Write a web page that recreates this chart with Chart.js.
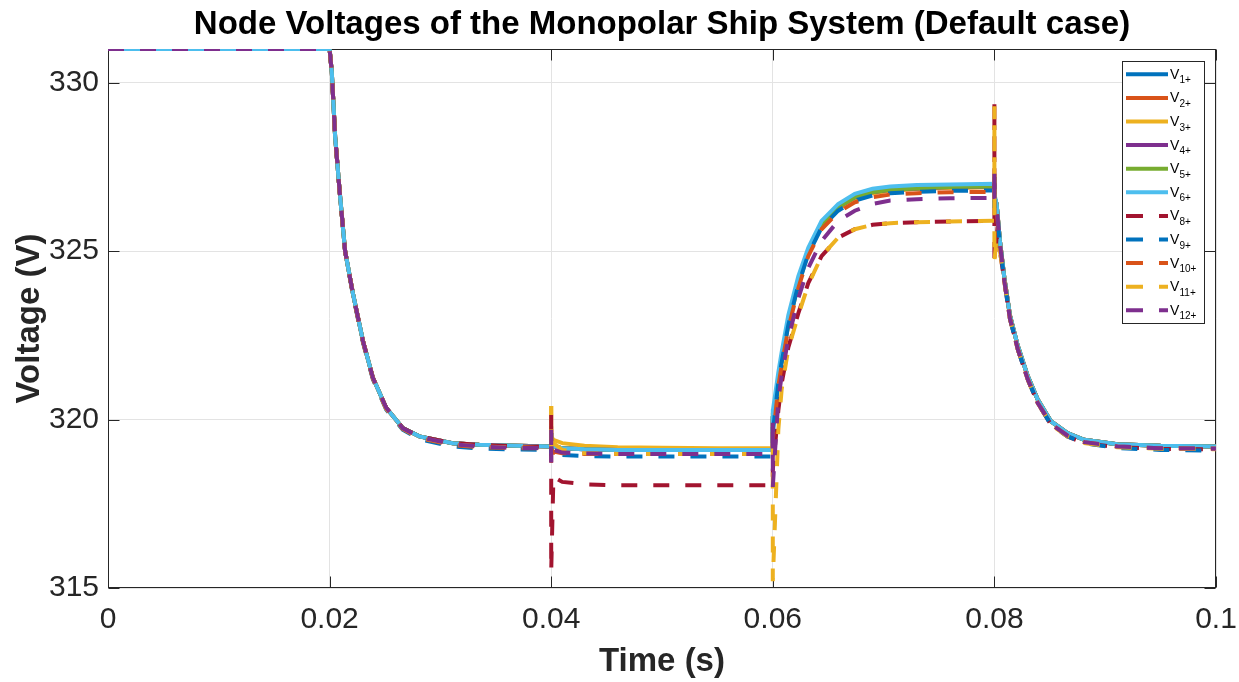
<!DOCTYPE html>
<html>
<head>
<meta charset="utf-8">
<title>Node Voltages of the Monopolar Ship System</title>
<script src="https://cdn.jsdelivr.net/npm/chart.js@4.4.1/dist/chart.umd.min.js"></script>
<style>
  html, body { margin: 0; padding: 0; background: #fff; }
  canvas { display: block; }
</style>
</head>
<body>
<canvas id="voltChart" width="1239" height="682"></canvas>
<script>
"use strict";

// time samples (s) - repeated times are the switching spikes
const timeS = [
  0, 0.02, 0.0202, 0.0205, 0.0209, 0.0214, 0.0221, 0.023, 0.0239, 0.0251, 0.0266, 0.0281, 0.0311, 0.0335, 0.037,
  0.04, 0.04, 0.04,
  0.0402, 0.041, 0.043, 0.046, 0.05, 0.055,
  0.06, 0.06, 0.06,
  0.0605, 0.0608, 0.0614, 0.0623, 0.0632, 0.0644, 0.0659, 0.0674, 0.069, 0.0706, 0.073, 0.076,
  0.08, 0.08, 0.08,
  0.0802, 0.0805, 0.0809, 0.0814, 0.0821, 0.083, 0.0839, 0.0851, 0.0866, 0.0881, 0.0911, 0.095, 0.1
];

// node voltages (V)
const v1 = [331, 331, 330.3, 328.4, 326.8, 325.0, 323.75, 322.35, 321.25, 320.35, 319.75, 319.5, 319.3, 319.25, 319.22,
  319.2, 319.6, 319.2,
  319.2, 319.15, 319.12, 319.1, 319.1, 319.1,
  319.1, 320.1, 320.0,
  321.2, 321.8, 322.9, 324.1, 325.0, 325.8, 326.3, 326.6, 326.75, 326.82, 326.86, 326.9,
  326.92, 327.2, 326.6,
  326.4, 325.3, 324.2, 323.1, 322.2, 321.3, 320.6, 319.95, 319.6, 319.4, 319.27, 319.22, 319.2];
const v2 = [331, 331, 330.3, 328.4, 326.8, 325.0, 323.75, 322.35, 321.25, 320.35, 319.75, 319.5, 319.3, 319.25, 319.22,
  319.2, 319.8, 319.1,
  319.2, 319.15, 319.12, 319.1, 319.1, 319.1,
  319.1, 320.0, 319.9,
  321.15, 321.75, 322.85, 324.05, 324.98, 325.78, 326.28, 326.58, 326.73, 326.8, 326.85, 326.88,
  326.9, 327.2, 326.6,
  326.4, 325.3, 324.2, 323.1, 322.2, 321.3, 320.6, 319.95, 319.6, 319.4, 319.27, 319.22, 319.2];
const v3 = [331, 331, 330.3, 328.4, 326.8, 325.0, 323.75, 322.35, 321.25, 320.35, 319.75, 319.5, 319.3, 319.25, 319.22,
  319.2, 320.4, 319.5,
  319.4, 319.3, 319.22, 319.18, 319.16, 319.15,
  319.15, 320.2, 319.8,
  321.1, 321.7, 322.8, 324.0, 324.95, 325.75, 326.25, 326.55, 326.72, 326.8, 326.85, 326.88,
  326.9, 327.3, 326.5,
  326.4, 325.3, 324.2, 323.1, 322.2, 321.3, 320.6, 319.95, 319.6, 319.4, 319.27, 319.22, 319.2];
const v4 = [331, 331, 330.3, 328.4, 326.8, 325.0, 323.75, 322.35, 321.25, 320.35, 319.75, 319.5, 319.3, 319.25, 319.22,
  319.2, 319.6, 319.2,
  319.2, 319.15, 319.12, 319.1, 319.1, 319.1,
  319.1, 320.1, 320.0,
  321.2, 321.8, 322.9, 324.1, 325.0, 325.8, 326.3, 326.6, 326.75, 326.82, 326.86, 326.9,
  326.92, 327.2, 326.6,
  326.4, 325.3, 324.2, 323.1, 322.2, 321.3, 320.6, 319.95, 319.6, 319.4, 319.27, 319.22, 319.2];
const v5 = [331, 331, 330.3, 328.4, 326.8, 325.0, 323.75, 322.35, 321.25, 320.35, 319.75, 319.5, 319.3, 319.25, 319.22,
  319.2, 319.6, 319.2,
  319.2, 319.15, 319.12, 319.1, 319.1, 319.1,
  319.1, 320.1, 320.0,
  321.2, 321.8, 322.9, 324.1, 325.0, 325.8, 326.3, 326.6, 326.75, 326.82, 326.86, 326.9,
  326.92, 327.2, 326.6,
  326.4, 325.3, 324.2, 323.1, 322.2, 321.3, 320.6, 319.95, 319.6, 319.4, 319.27, 319.22, 319.2];
const v6 = [331, 331, 330.3, 328.4, 326.8, 325.0, 323.75, 322.35, 321.25, 320.35, 319.75, 319.5, 319.3, 319.25, 319.22,
  319.2, 319.6, 319.2,
  319.2, 319.15, 319.12, 319.1, 319.1, 319.1,
  319.1, 320.3, 320.25,
  321.4, 322.0, 323.1, 324.25, 325.1, 325.9, 326.4, 326.7, 326.85, 326.92, 326.96, 326.98,
  327.0, 327.2, 326.7,
  326.4, 325.3, 324.2, 323.1, 322.2, 321.3, 320.6, 319.95, 319.6, 319.4, 319.27, 319.22, 319.2];
const v8 = [331, 331, 330.3, 328.4, 326.8, 325.0, 323.75, 322.35, 321.25, 320.35, 319.75, 319.5, 319.3, 319.25, 319.2,
  319.2, 320.2, 315.5,
  318.3, 318.15, 318.08, 318.05, 318.05, 318.05,
  318.05, 318.05, 318.5,
  320.27, 321.07, 322.14, 323.15, 324.05, 324.85, 325.4, 325.65, 325.78, 325.83, 325.86, 325.88,
  325.9, 329.45, 324.65,
  325.4, 325.0, 324.1, 323.0, 322.1, 321.2, 320.5, 319.85, 319.5, 319.3, 319.18, 319.13, 319.12];
const v9 = [331, 331, 330.3, 328.4, 326.8, 325.0, 323.7, 322.3, 321.2, 320.3, 319.7, 319.42, 319.2, 319.14, 319.11,
  319.1, 319.3, 318.9,
  319.0, 318.95, 318.92, 318.9, 318.9, 318.9,
  318.9, 319.9, 319.6,
  321.1, 321.7, 322.8, 324.0, 324.9, 325.7, 326.2, 326.5, 326.65, 326.72, 326.76, 326.79,
  326.8, 327.1, 326.2,
  326.2, 325.2, 324.1, 323.0, 322.1, 321.2, 320.5, 319.85, 319.5, 319.3, 319.15, 319.1, 319.08];
const v10 = [331, 331, 330.3, 328.4, 326.8, 325.0, 323.72, 322.32, 321.22, 320.32, 319.72, 319.45, 319.24, 319.18, 319.15,
  319.15, 319.4, 318.8,
  319.05, 319.0, 318.98, 318.98, 318.98, 318.98,
  318.98, 319.8, 319.4,
  321.0, 321.6, 322.7, 323.9, 324.85, 325.65, 326.15, 326.45, 326.6, 326.68, 326.72, 326.75,
  326.76, 327.0, 326.3,
  326.2, 325.2, 324.1, 323.0, 322.1, 321.2, 320.5, 319.87, 319.52, 319.33, 319.2, 319.15, 319.14];
const v11 = [331, 331, 330.3, 328.4, 326.8, 325.0, 323.75, 322.35, 321.25, 320.33, 319.73, 319.47, 319.27, 319.2, 319.17,
  319.15, 320.4, 319.0,
  319.3, 319.1, 319.0, 318.98, 318.98, 318.98,
  318.98, 319.2, 315.2,
  319.7, 320.9, 322.1, 323.1, 324.0, 324.85, 325.4, 325.65, 325.78, 325.83, 325.86, 325.88,
  325.9, 329.3, 324.7,
  325.4, 325.0, 324.1, 323.0, 322.1, 321.2, 320.5, 319.85, 319.5, 319.3, 319.18, 319.13, 319.12];
const v12 = [331, 331, 330.3, 328.4, 326.8, 325.0, 323.75, 322.35, 321.25, 320.35, 319.74, 319.48, 319.27, 319.2, 319.16,
  319.15, 319.7, 318.7,
  319.1, 319.02, 318.99, 318.98, 318.98, 318.98,
  318.98, 320.0, 318.0,
  320.6, 321.3, 322.4, 323.6, 324.5, 325.3, 325.9, 326.2, 326.4, 326.5, 326.54, 326.57,
  326.58, 327.4, 326.6,
  326.3, 325.2, 324.1, 323.0, 322.1, 321.2, 320.5, 319.87, 319.52, 319.33, 319.2, 319.15, 319.13];

const seriesValues = [v1, v2, v3, v4, v5, v6, v8, v9, v10, v11, v12];
const seriesSubs = ['1+', '2+', '3+', '4+', '5+', '6+', '8+', '9+', '10+', '11+', '12+'];
const seriesColors = ['#0072BD', '#D95319', '#EDB120', '#7E2F8E', '#77AC30', '#4DBEEE',
                      '#A2142F', '#0072BD', '#D95319', '#EDB120', '#7E2F8E'];
const seriesDashed = [false, false, false, false, false, false, true, true, true, true, true];

const xTickVals = [0, 0.02, 0.04, 0.06, 0.08, 0.1];
const xTickLabels = ['0', '0.02', '0.04', '0.06', '0.08', '0.1'];
const yTickVals = [315, 320, 325, 330];
const yTickLabels = ['315', '320', '325', '330'];

const FONT = '"Liberation Sans", Arial, Helvetica, sans-serif';
Chart.defaults.font.family = FONT;
Chart.defaults.color = '#262626';

// axes box with inward tick marks (drawn under the lines)
const axesBox = {
  id: 'axesBox',
  beforeDatasetsDraw(chart) {
    const {ctx, chartArea: a, scales: {x, y}} = chart;
    const l = Math.round(a.left) + 0.5, r = Math.round(a.right) - 0.5;
    const t = Math.round(a.top) + 0.5, b = Math.round(a.bottom) - 0.5;
    ctx.save();
    ctx.strokeStyle = '#262626';
    ctx.lineWidth = 1;
    ctx.strokeRect(l, t, r - l, b - t);
    ctx.beginPath();
    xTickVals.forEach(v => {
      const px = Math.round(x.getPixelForValue(v)) + 0.5;
      ctx.moveTo(px, b); ctx.lineTo(px, b - 11);
      ctx.moveTo(px, t); ctx.lineTo(px, t + 11);
    });
    yTickVals.forEach(v => {
      const py = Math.round(y.getPixelForValue(v)) + 0.5;
      ctx.moveTo(l, py); ctx.lineTo(l + 11, py);
      ctx.moveTo(r, py); ctx.lineTo(r - 11, py);
    });
    ctx.stroke();
    ctx.restore();
  }
};

// legend box inside the top right corner, with subscripts
const boxLegend = {
  id: 'boxLegend',
  afterDraw(chart) {
    const {ctx, chartArea: a} = chart;
    const bx = Math.round(a.right) - 93.5, by = Math.round(a.top) + 12.5;
    const bw = 82, bh = 262;
    ctx.save();
    ctx.fillStyle = '#fff';
    ctx.fillRect(bx, by, bw, bh);
    ctx.strokeStyle = '#262626';
    ctx.lineWidth = 1;
    ctx.strokeRect(bx, by, bw, bh);
    seriesSubs.forEach((sub, i) => {
      const rowY = by + 12.8 + i * 23.6;
      ctx.strokeStyle = seriesColors[i];
      ctx.lineWidth = 4;
      ctx.setLineDash(seriesDashed[i] ? [17, 16] : []);
      ctx.beginPath();
      ctx.moveTo(bx + 3.5, rowY);
      ctx.lineTo(bx + 45.5, rowY);
      ctx.stroke();
      ctx.setLineDash([]);
      ctx.fillStyle = '#000';
      ctx.textBaseline = 'alphabetic';
      ctx.textAlign = 'left';
      ctx.font = '14px ' + FONT;
      ctx.fillText('V', bx + 47.5, rowY + 4.5);
      ctx.font = '10px ' + FONT;
      ctx.fillText(sub, bx + 57, rowY + 9);
    });
    ctx.restore();
  }
};

const datasets = seriesValues.map((vals, i) => ({
  label: 'V' + seriesSubs[i],
  data: timeS.map((t, k) => ({x: t, y: vals[k]})),
  borderColor: seriesColors[i],
  backgroundColor: seriesColors[i],
  borderWidth: 4,
  borderDash: seriesDashed[i] ? [16, 16] : [],
  pointRadius: 0,
  tension: 0,
  fill: false,
  order: seriesValues.length - 1 - i   // later series drawn on top
}));

const ctx = document.getElementById('voltChart').getContext('2d');
const voltChart = new Chart(ctx, {
  type: 'line',
  data: { datasets: datasets },
  options: {
    responsive: false,
    animation: false,
    layout: { padding: { left: 0, right: 23, top: 0, bottom: 0 } },
    plugins: {
      legend: { display: false },
      tooltip: { enabled: false },
      title: {
        display: true,
        fullSize: false,
        text: 'Node Voltages of the Monopolar Ship System (Default case)',
        color: '#000',
        font: { size: 33, weight: 'bold', family: FONT },
        padding: { top: 5.5, bottom: 3.9 }
      }
    },
    scales: {
      x: {
        type: 'linear',
        min: 0,
        max: 0.1,
        afterBuildTicks: scale => { scale.ticks = xTickVals.map(v => ({value: v})); },
        afterFit: scale => { scale.height = 94; scale.paddingLeft = 0; scale.paddingRight = 0; },
        ticks: {
          padding: 14,
          color: '#262626',
          font: { size: 30 },
          maxRotation: 0,
          autoSkip: false,
          callback: (value, index) => xTickLabels[index]
        },
        grid: { color: '#e3e3e3', lineWidth: 1, drawTicks: false },
        border: { display: false },
        title: {
          display: true,
          text: 'Time (s)',
          color: '#262626',
          font: { size: 33, weight: 'bold' },
          padding: { top: 0, bottom: 0 }
        }
      },
      y: {
        type: 'linear',
        min: 315,
        max: 331,
        afterBuildTicks: scale => { scale.ticks = yTickVals.map(v => ({value: v})); },
        afterFit: scale => { scale.width = 108; scale.paddingTop = 0; scale.paddingBottom = 0; },
        ticks: {
          padding: 9,
          color: '#262626',
          font: { size: 30 },
          autoSkip: false,
          callback: (value, index) => yTickLabels[index]
        },
        grid: { color: '#e3e3e3', lineWidth: 1, drawTicks: false },
        border: { display: false },
        title: {
          display: true,
          text: 'Voltage (V)',
          color: '#262626',
          font: { size: 33, weight: 'bold' },
          padding: { top: 10, bottom: 0 }
        }
      }
    }
  },
  plugins: [axesBox, boxLegend]
});
</script>
</body>
</html>
